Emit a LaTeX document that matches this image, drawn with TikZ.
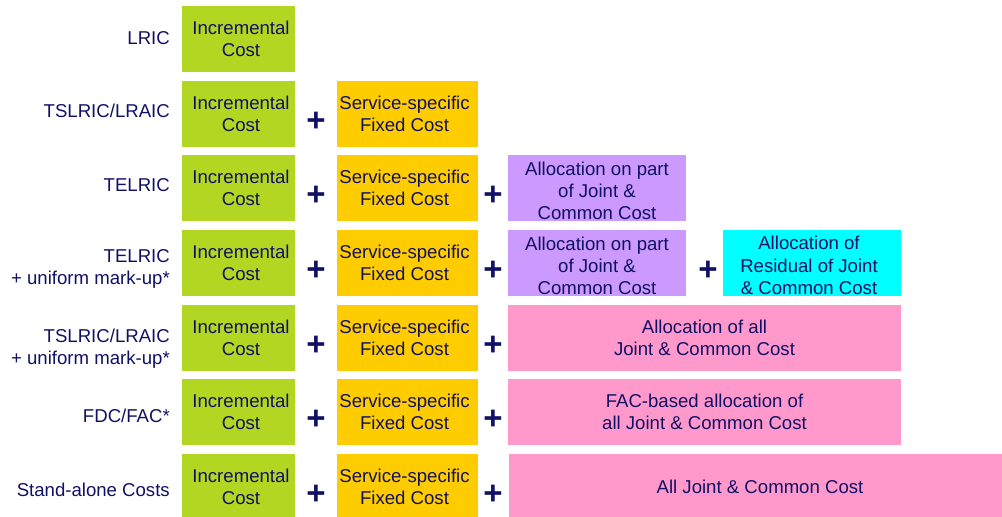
\documentclass[tikz,border=0pt]{standalone}
\usepackage{fontspec}
\setmainfont{Liberation Sans}
\definecolor{navy}{RGB}{16,16,100}
\definecolor{cgreen}{RGB}{179,214,34}
\definecolor{corange}{RGB}{255,204,0}
\definecolor{cpurple}{RGB}{204,153,255}
\definecolor{ccyan}{RGB}{0,255,255}
\definecolor{cpink}{RGB}{255,153,204}
\begin{document}
\begin{tikzpicture}[x=1pt,y=-1pt,
  every node/.style={inner sep=0pt, text=navy, font=\fontsize{18.6}{22.3}\selectfont},
  costbox/.style={rectangle, minimum height=66pt, align=center},
  greenbox/.style={costbox, fill=cgreen, minimum width=113pt},
  orangebox/.style={costbox, fill=corange, minimum width=141pt},
  purplebox/.style={costbox, fill=cpurple, minimum width=178pt},
  cyanbox/.style={costbox, fill=ccyan, minimum width=178pt},
  pinkbox/.style={costbox, fill=cpink, minimum width=393pt},
  gtext/.style={align=center, xshift=2.5pt},
  otext/.style={align=center, xshift=-3pt},
  ptext/.style={align=center, yshift=-3pt},
  ctext/.style={align=center, xshift=-3pt, yshift=-2.5pt},
  ktext/.style={align=center, xshift=4.5pt, yshift=-1.5pt},
  rowlabel/.style={anchor=east, align=right},
  plus/.style={font=\fontsize{33}{33}\selectfont\bfseries}
]
\useasboundingbox (0,0) rectangle (1002,517);

% row labels
\node[rowlabel] (l1) at (170,38) {LRIC};
\node[rowlabel] (l2) at (170,111) {TSLRIC/LRAIC};
\node[rowlabel] (l3) at (170,185) {TELRIC};
\node[rowlabel] (l4) at (170,269) {TELRIC\\+ uniform mark-up*};
\node[rowlabel] (l5) at (170,349) {TSLRIC/LRAIC\\+ uniform mark-up*};
\node[rowlabel] (l6) at (170,416) {FDC/FAC*};
\node[rowlabel] (l7) at (170,490) {Stand-alone Costs};

% green boxes
\node[greenbox, label={[gtext]center:Incremental\\Cost}] (g1) at (238.5,39) {};
\node[greenbox, label={[gtext]center:Incremental\\Cost}] (g2) at (238.5,114) {};
\node[greenbox, label={[gtext]center:Incremental\\Cost}] (g3) at (238.5,188) {};
\node[greenbox, label={[gtext]center:Incremental\\Cost}] (g4) at (238.5,263) {};
\node[greenbox, label={[gtext]center:Incremental\\Cost}] (g5) at (238.5,338) {};
\node[greenbox, label={[gtext]center:Incremental\\Cost}] (g6) at (238.5,412) {};
\node[greenbox, label={[gtext]center:Incremental\\Cost}] (g7) at (238.5,487) {};

% orange boxes
\node[orangebox, label={[otext]center:Service-specific\\Fixed Cost}] (o2) at (407.5,114) {};
\node[orangebox, label={[otext]center:Service-specific\\Fixed Cost}] (o3) at (407.5,188) {};
\node[orangebox, label={[otext]center:Service-specific\\Fixed Cost}] (o4) at (407.5,263) {};
\node[orangebox, label={[otext]center:Service-specific\\Fixed Cost}] (o5) at (407.5,338) {};
\node[orangebox, label={[otext]center:Service-specific\\Fixed Cost}] (o6) at (407.5,412) {};
\node[orangebox, label={[otext]center:Service-specific\\Fixed Cost}] (o7) at (407.5,487) {};

% purple boxes
\node[purplebox, label={[ptext]center:Allocation on part\\of Joint \&\\Common Cost}] (p3) at (597,188) {};
\node[purplebox, label={[ptext]center:Allocation on part\\of Joint \&\\Common Cost}] (p4) at (597,263) {};

% cyan box
\node[cyanbox, label={[ctext]center:Allocation of\\Residual of Joint\\\& Common Cost}] (c4) at (812,263) {};

% pink boxes
\node[pinkbox] (k5) at (704.5,338) {Allocation of all\\Joint \& Common Cost};
\node[pinkbox] (k6) at (704.5,412) {FAC-based allocation of\\all Joint \& Common Cost};
\node[pinkbox, minimum width=493pt, minimum height=63pt, label={[ktext]center:All Joint \& Common Cost}] (k7) at (755.5,485.5) {};

% plus signs
\node[plus] (a2) at (316,122) {+};
\node[plus] (a3) at (316,196) {+};
\node[plus] (b3) at (493,196) {+};
\node[plus] (a4) at (316,271) {+};
\node[plus] (b4) at (493,271) {+};
\node[plus] (c4p) at (708,271) {+};
\node[plus] (a5) at (316,346) {+};
\node[plus] (b5) at (493,346) {+};
\node[plus] (a6) at (316,420) {+};
\node[plus] (b6) at (493,420) {+};
\node[plus] (a7) at (316,495) {+};
\node[plus] (b7) at (493,495) {+};
\end{tikzpicture}
\end{document}
